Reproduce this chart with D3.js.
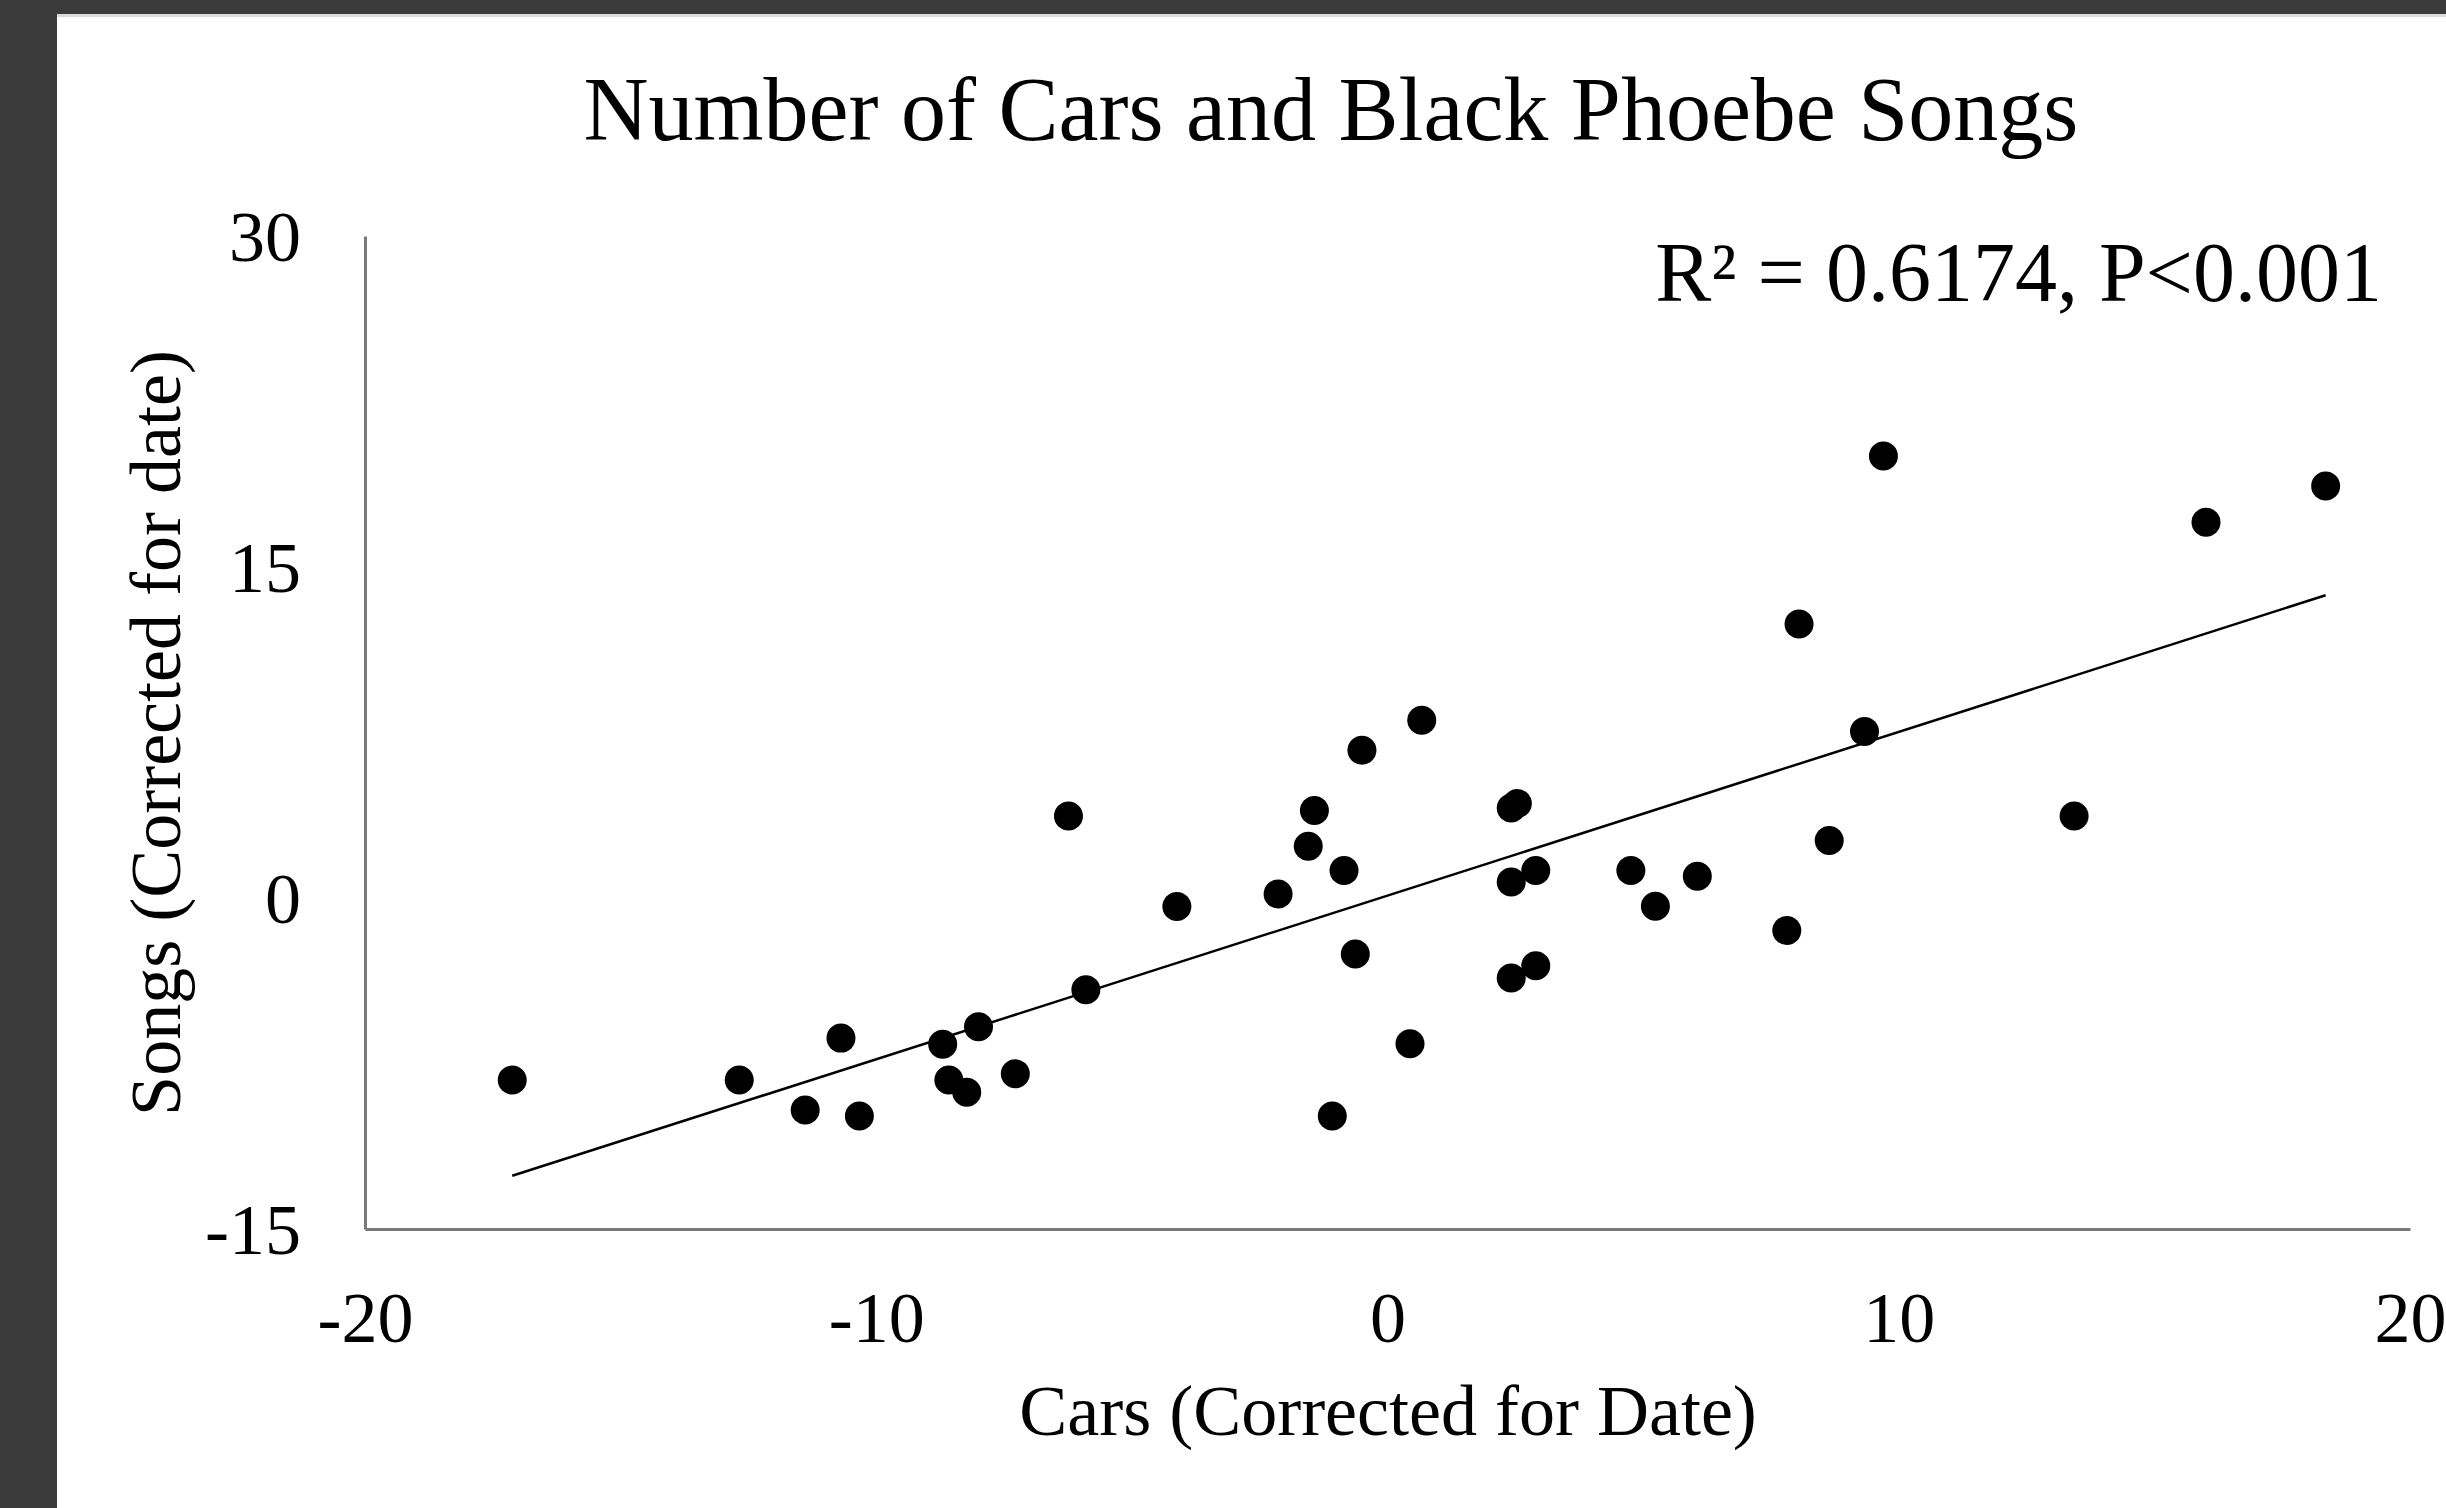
<!DOCTYPE html>
<html>
<head>
<meta charset="utf-8">
<script src="https://cdn.jsdelivr.net/npm/d3@7"></script>
<style>
	html, body { margin: 0; padding: 0; background: #3b3b3b; }
	svg { display: block; }
</style>
</head>
<body>
<svg id="chart" width="2446" height="1508"></svg>
<script>
	// values
	const carsX = [-17.12, -12.68, -11.39, -10.69, -10.33, -8.70, -8.58, -8.23, -8.00, -7.28,
		-6.24, -5.90, -4.12, -2.14, -1.55, -1.43, -1.08, -0.85, -0.63, -0.50,
		0.44, 0.67, 2.42, 2.54, 2.42, 2.42, 2.90, 2.90, 4.76, 5.24,
		6.06, 7.81, 8.05, 8.64, 9.33, 9.70, 13.43, 16.01, 18.35];
	const songsY = [-8.25, -8.25, -9.61, -6.35, -9.88, -6.63, -8.25, -8.80, -5.83, -7.97,
		3.72, -4.16, -0.38, 0.18, 2.34, 3.97, -9.88, 1.25, -2.54, 6.70,
		-6.61, 8.06, 4.08, 4.28, 0.73, -3.63, 1.25, -3.07, 1.25, -0.37,
		0.99, -1.47, 12.42, 2.61, 7.55, 20.03, 3.72, 17.03, 18.67];

	const xTicks = [-20, -10, 0, 10, 20];
	const yTicks = [-15, 0, 15, 30];

	// linear trendline as drawn
	const trendSlope = 0.7417,
		trendIntercept = 0.11;

	const chartTitle = "Number of Cars and Black Phoebe Songs",
		statsLabel = "R\u00b2 = 0.6174, P<0.001",
		xTitle = "Cars (Corrected for Date)",
		yTitle = "Songs (Corrected for date)";

	const svg = d3.select("#chart");
	const font = "'Liberation Serif', 'Times New Roman', Times, serif";

	const width = 2446,
		height = 1508;

	const margin = {top: 236, right: 36, bottom: 279, left: 365};

	// dark frame + white page
	svg.append("rect")
		.attr("width", width).attr("height", height)
		.attr("fill", "#3b3b3b");
	svg.append("rect")
		.attr("x", 57).attr("y", 14)
		.attr("width", width - 57).attr("height", height - 14)
		.attr("fill", "#ffffff");
	svg.append("rect")
		.attr("x", 57).attr("y", 14)
		.attr("width", width - 57).attr("height", 3)
		.attr("fill", "#dcdcdc");

	let x = d3.scaleLinear()
		.domain([-20, 20])
		.range([margin.left, width - margin.right]);

	let y = d3.scaleLinear()
		.domain([-15, 30])
		.range([height - margin.bottom, margin.top]);

	// plain hyphen for negatives, like the original
	const fmt = d => String(d);

	const xAxis = d3.axisBottom(x)
		.tickValues(xTicks)
		.tickFormat(fmt)
		.tickSize(0)
		.tickPadding(113);

	const yAxis = d3.axisLeft(y)
		.tickValues(yTicks)
		.tickFormat(fmt)
		.tickSize(0)
		.tickPadding(64);

	const gx = svg.append("g")
		.attr("transform", "translate(0," + y(-15) + ")")
		.call(xAxis);

	const gy = svg.append("g")
		.attr("transform", "translate(" + x(-20) + ",0)")
		.call(yAxis);

	[gx, gy].forEach(function (g) {
		g.select(".domain")
			.attr("stroke", "#7a7a7a")
			.attr("stroke-width", 3);
		g.selectAll("text")
			.attr("font-family", font)
			.attr("font-size", 72)
			.attr("fill", "#000");
	});
	gx.selectAll("text").attr("dy", "0");
	gy.selectAll("text").attr("dy", "0.34em");

	// trendline over the data range
	const xExt = d3.extent(carsX);
	const lineDrawer = d3.line()
		.x(d => x(d))
		.y(d => y(trendSlope * d + trendIntercept));

	svg.append("path")
		.datum(xExt)
		.attr("fill", "none")
		.attr("stroke", "#000")
		.attr("stroke-width", 2.5)
		.attr("d", lineDrawer);

	// points
	const points = carsX.map((v, i) => ({x: v, y: songsY[i]}));

	svg.append("g")
		.selectAll("circle")
		.data(points)
		.join("circle")
		.attr("cx", d => x(d.x))
		.attr("cy", d => y(d.y))
		.attr("r", 14.5)
		.attr("fill", "#000");

	// texts
	svg.append("text")
		.attr("x", 1331).attr("y", 140)
		.attr("text-anchor", "middle")
		.attr("font-family", font)
		.attr("font-size", 90)
		.text(chartTitle);

	svg.append("text")
		.attr("x", 2382).attr("y", 301)
		.attr("text-anchor", "end")
		.attr("font-family", font)
		.attr("font-size", 84)
		.text(statsLabel);

	svg.append("text")
		.attr("x", 1388).attr("y", 1435)
		.attr("text-anchor", "middle")
		.attr("font-family", font)
		.attr("font-size", 72)
		.text(xTitle);

	svg.append("text")
		.attr("transform", "translate(180,733) rotate(-90)")
		.attr("text-anchor", "middle")
		.attr("font-family", font)
		.attr("font-size", 72)
		.text(yTitle);
</script>
</body>
</html>
